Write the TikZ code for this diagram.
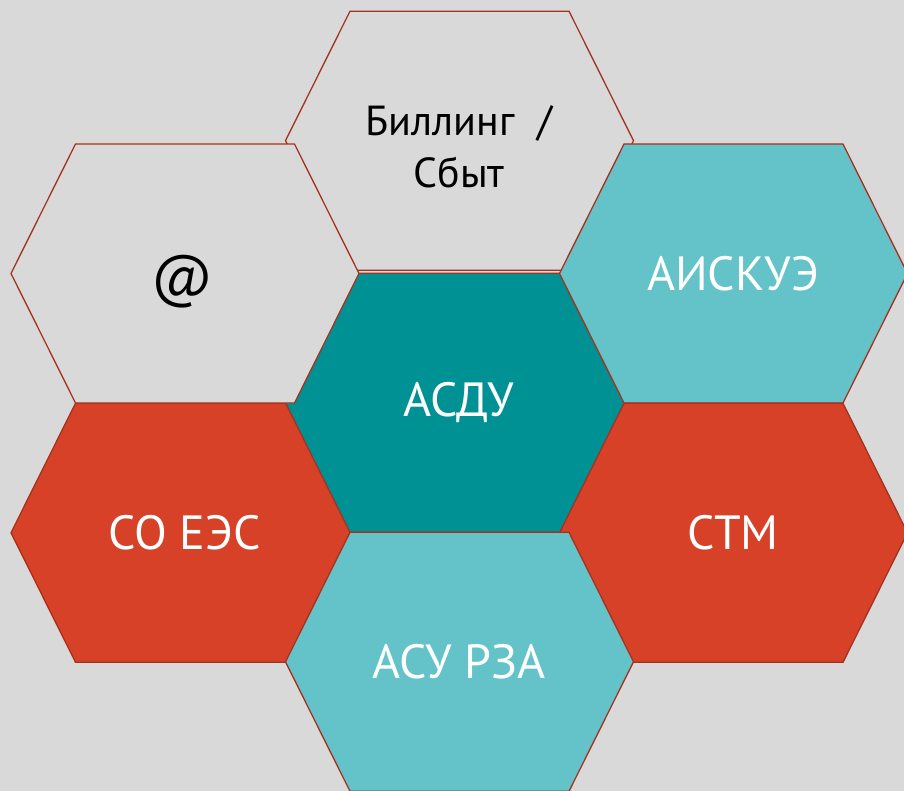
\documentclass[tikz,border=0pt]{standalone}
\usepackage{fontspec}
\setmainfont{PT Sans}
\usepackage{xcolor}

\definecolor{bggray}{HTML}{D9D9D9}
\definecolor{tealdark}{HTML}{009194}
\definecolor{teallight}{HTML}{64C3C8}
\definecolor{brickred}{HTML}{D64127}
\definecolor{rimred}{HTML}{A5321F}

% one stretched hexagon around a centre coordinate
\newcommand{\hexcell}[2]{%
  \filldraw[rim,fill=#2] (#1) ++(-173.5,0) -- ++(64.5,-129.5) -- ++(219,0)
    -- ++(64.5,129.5) -- ++(-64.5,129.5) -- ++(-219,0) -- cycle;}

\begin{document}
\begin{tikzpicture}[x=1pt,y=-1pt,
  rim/.style={draw=rimred,line width=1.3pt,line join=miter},
  darktext/.style={text=black,font=\fontsize{42}{52}\selectfont,align=center},
  lighttext/.style={text=white,font=\fontsize{48}{52}\selectfont}]
 \useasboundingbox (0,0) rectangle (904,791);
 \fill[bggray] (0,0) rectangle (904,791);
 \clip (0,0) rectangle (904,791);

 \coordinate (billing) at (459,140.7);
 \coordinate (mail) at (184.5,273.5);
 \coordinate (askue) at (733,273.5);
 \coordinate (asdu) at (459,402.8);
 \coordinate (soees) at (184.5,532.8);
 \coordinate (stm) at (733,532.8);
 \coordinate (asurza) at (459,661.8);

 % back to front
 \hexcell{soees}{brickred}
 \hexcell{billing}{bggray}
 \hexcell{asdu}{tealdark}
 \hexcell{mail}{bggray}
 \hexcell{askue}{teallight}
 \hexcell{stm}{brickred}
 \hexcell{asurza}{teallight}

 \node[darktext] (billing-t) at ([yshift=-6]billing) {Биллинг~~/\\Сбыт};
 \node[darktext,font=\fontsize{58}{60}\selectfont] (mail-t) at ([xshift=-2,yshift=-8]mail) {@};
 \node[lighttext] (askue-t) at (askue) {АИСКУЭ};
 \node[lighttext] (asdu-t) at (asdu) {АСДУ};
 \node[lighttext] (soees-t) at (soees) {СО ЕЭС};
 \node[lighttext] (stm-t) at (stm) {СТМ};
 \node[lighttext] (asurza-t) at (asurza) {АСУ РЗА};

\end{tikzpicture}
\end{document}
